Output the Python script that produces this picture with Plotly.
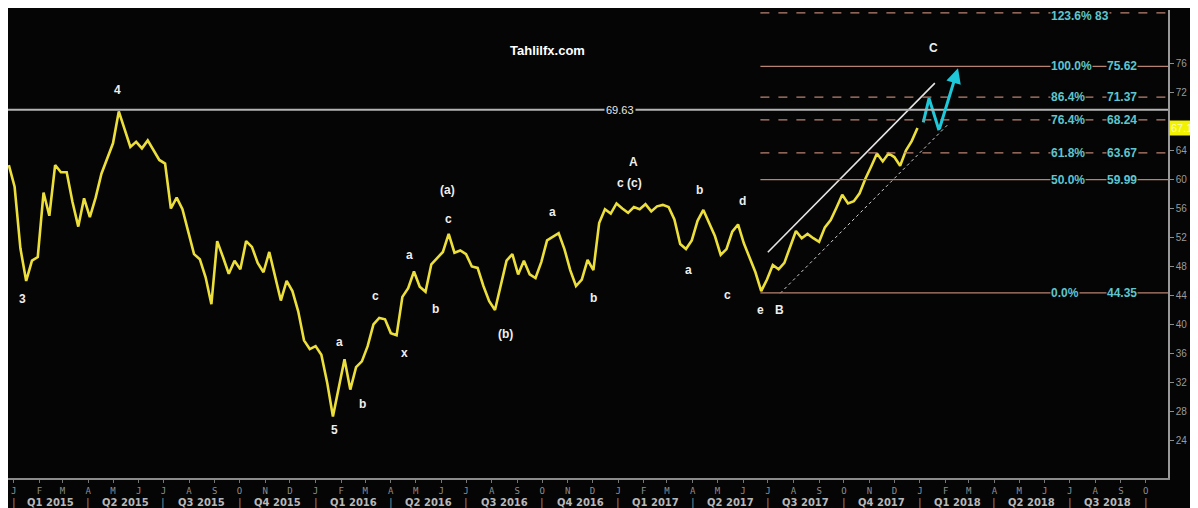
import pandas as pd
import plotly.graph_objects as go

# ---------------- data ----------------
PRICE_START = "2014-12-26"   # weekly closes
PRICE_VALUES = [
    62.0, 59.0, 50.5, 46.0, 48.8, 49.3, 58.2, 55.0, 62.0, 61.0,
    61.0, 56.9, 53.5, 57.4, 54.8, 57.5, 60.8, 63.0, 65.0, 69.4,
    67.0, 64.5, 65.2, 64.3, 65.4, 64.1, 62.7, 62.2, 56.0, 57.5,
    55.9, 52.8, 49.7, 49.0, 46.5, 42.8, 51.5, 49.3, 47.0, 48.8,
    47.6, 51.5, 50.7, 48.5, 47.2, 50.0, 46.8, 43.3, 46.0, 44.6,
    41.8, 37.8, 36.6, 37.0, 35.8, 32.0, 27.3, 31.5, 35.2, 31.0,
    34.1, 34.9, 37.0, 40.0, 40.9, 40.7, 38.8, 38.5, 43.8, 45.0,
    47.3, 45.2, 44.5, 48.3, 49.2, 50.0, 52.5, 49.9, 50.2, 49.7,
    48.0, 47.8, 45.3, 43.2, 42.0, 45.2, 48.8, 49.7, 46.9, 48.8,
    46.9, 46.4, 48.6, 51.6, 52.1, 52.6, 50.4, 47.5, 45.3, 46.2,
    48.9, 47.5, 54.0, 55.9, 55.3, 56.7, 56.0, 55.4, 56.2, 55.9,
    56.6, 55.6, 56.3, 56.5, 56.2, 54.5, 51.1, 50.4, 51.6, 54.3,
    55.8, 54.0, 52.2, 49.6, 50.4, 52.8, 53.8, 51.2, 49.3, 47.2,
    44.6, 46.2, 48.2, 47.6, 48.5, 50.8, 52.9, 51.9, 52.5, 51.9,
    51.4, 53.4, 54.4, 56.1, 57.9, 56.7, 57.0, 58.1, 60.1, 61.8,
    63.6, 62.5, 63.6, 63.1, 61.9, 64.0, 65.3, 67.1,
]
LAST_PRICE = 67.14
RESISTANCE = 69.63

FIB_PCTS = ["123.6%", "100.0%", "86.4%", "76.4%", "61.8%", "50.0%", "0.0%"]
FIB_VALUES = [83.0, 75.62, 71.37, 68.24, 63.67, 59.99, 44.35]
FIB_DASHED = [True, False, True, True, True, False, False]
FIB_START = "2017-06-22"

WAVE_TEXT = ["3", "4", "5", "a", "b", "c", "x", "a", "b", "(a)", "c", "(b)",
             "a", "b", "A", "c (c)", "b", "a", "d", "c", "e", "B", "C"]
WAVE_DATES = ["2015-01-11", "2015-05-07", "2016-01-24", "2016-01-30", "2016-02-27",
              "2016-03-14", "2016-04-18", "2016-04-23", "2016-05-25", "2016-06-09",
              "2016-06-10", "2016-08-18", "2016-10-13", "2016-12-02", "2017-01-19",
              "2017-01-15", "2017-04-09", "2017-03-27", "2017-05-31", "2017-05-13",
              "2017-06-22", "2017-07-15", "2018-01-17"]
WAVE_VALUES = [43.5, 72.3, 25.4, 37.6, 29.0, 43.9, 36.0, 49.6, 42.1, 58.5,
               54.6, 38.7, 55.5, 43.7, 62.4, 59.5, 58.5, 47.5, 57.1, 44.0,
               42.0, 42.0, 78.1]

CHANNEL_UPPER_DATES = ["2017-07-01", "2018-01-19"]
CHANNEL_UPPER_VALUES = [49.96, 73.3]
CHANNEL_LOWER_DATES = ["2017-07-16", "2018-02-03"]
CHANNEL_LOWER_VALUES = [44.3, 67.5]

PROJ_DATES = ["2018-01-05", "2018-01-12", "2018-01-24", "2018-02-16"]
PROJ_VALUES = [67.9, 71.2, 66.8, 75.35]

MONTH_LETTERS = ["J", "F", "M", "A", "M", "J", "J", "A", "S", "O", "N", "D"]
QUARTER_LABELS = ["Q1 2015", "Q2 2015", "Q3 2015", "Q4 2015",
                  "Q1 2016", "Q2 2016", "Q3 2016", "Q4 2016",
                  "Q1 2017", "Q2 2017", "Q3 2017", "Q4 2017",
                  "Q1 2018", "Q2 2018", "Q3 2018"]
Y_TICKS = list(range(24, 80, 4))
WATERMARK = "Tahlilfx.com"

# ---------------- figure ----------------
X_RANGE = ["2014-12-25", "2018-10-28"]
Y_RANGE = [18.8, 83.4]
BG = "#050505"
YELLOW = "#ecdf3c"
CYAN = "#5ec6cc"
FIB_COLOR = "#b98372"
AXIS_TXT = "#9a9a9a"

price_dates = pd.date_range(PRICE_START, periods=len(PRICE_VALUES), freq="7D")
month_starts = pd.date_range("2015-01-01", "2018-10-01", freq="MS")
month_text = [MONTH_LETTERS[d.month - 1] for d in month_starts]
quarter_starts = pd.date_range("2015-01-01", periods=len(QUARTER_LABELS) + 1, freq="QS")
# the last-price tag covers the tick label nearest to it
y_ticktext = ["" if abs(t - LAST_PRICE) < 2 else str(t) for t in Y_TICKS]

fig = go.Figure()

fig.add_trace(go.Scatter(
    x=price_dates, y=PRICE_VALUES, mode="lines",
    line=dict(color=YELLOW, width=2.6), hoverinfo="skip", showlegend=False))

# channel
fig.add_trace(go.Scatter(
    x=CHANNEL_UPPER_DATES, y=CHANNEL_UPPER_VALUES, mode="lines",
    line=dict(color="#e6e6e6", width=1.6), showlegend=False, hoverinfo="skip"))
fig.add_trace(go.Scatter(
    x=CHANNEL_LOWER_DATES, y=CHANNEL_LOWER_VALUES, mode="lines",
    line=dict(color="#d0d0d0", width=1, dash="dot"), showlegend=False, hoverinfo="skip"))

# projection path
fig.add_trace(go.Scatter(
    x=PROJ_DATES[:3], y=PROJ_VALUES[:3], mode="lines",
    line=dict(color="#1fc8d8", width=3), showlegend=False, hoverinfo="skip"))

shapes = [
    dict(type="line", xref="x", yref="y", x0=X_RANGE[0], x1=X_RANGE[1],
         y0=RESISTANCE, y1=RESISTANCE, line=dict(color="#b4b4b4", width=2)),
]
for val, dashed in zip(FIB_VALUES, FIB_DASHED):
    shapes.append(dict(type="line", xref="x", yref="y", x0=FIB_START, x1=X_RANGE[1],
                       y0=val, y1=val,
                       line=dict(color=FIB_COLOR, width=1.3, dash="dash" if dashed else "solid")))

annotations = []
fib_font = dict(family="Liberation Sans, Arial", size=12, color=CYAN)
for pct, val in zip(FIB_PCTS, FIB_VALUES):
    if pct == "123.6%":
        annotations.append(dict(x="2018-06-07", y=val, xref="x", yref="y", xanchor="left",
                                yshift=-3, text=f"<b>{pct} {val:g}</b>", showarrow=False,
                                font=fib_font, bgcolor=BG, borderpad=0))
    else:
        annotations.append(dict(x="2018-06-07", y=val, xref="x", yref="y", xanchor="left",
                                text=f"<b>{pct}</b>", showarrow=False, font=fib_font,
                                bgcolor=BG, borderpad=0))
        annotations.append(dict(x="2018-09-22", y=val, xref="x", yref="y", xanchor="right",
                                text=f"<b>{val:.2f}</b>", showarrow=False, font=fib_font,
                                bgcolor=BG, borderpad=0))

annotations.append(dict(x="2017-01-03", y=RESISTANCE, xref="x", yref="y",
                        text=f"{RESISTANCE:.2f}", showarrow=False,
                        font=dict(family="Liberation Sans, Arial", size=11, color="#e8e8e8"),
                        bgcolor=BG, borderpad=1))

for t, d, v in zip(WAVE_TEXT, WAVE_DATES, WAVE_VALUES):
    annotations.append(dict(x=d, y=v, xref="x", yref="y", text=f"<b>{t}</b>",
                            showarrow=False,
                            font=dict(family="Liberation Sans, Arial", size=12, color="#eeeeee")))

annotations.append(dict(x="2016-10-07", y=77.8, xref="x", yref="y", text=f"<b>{WATERMARK}</b>",
                        showarrow=False,
                        font=dict(family="Liberation Sans, Arial", size=13, color="#ffffff")))

# projection arrow head segment
annotations.append(dict(x=PROJ_DATES[3], y=PROJ_VALUES[3], ax=PROJ_DATES[2], ay=PROJ_VALUES[2],
                        xref="x", yref="y", axref="x", ayref="y", text="", showarrow=True,
                        arrowhead=2, arrowsize=1, arrowwidth=3, arrowcolor="#1fc8d8",
                        standoff=0, startstandoff=0))

# last price tag
annotations.append(dict(x=1, y=LAST_PRICE, xref="paper", yref="y", xanchor="left", xshift=1,
                        text=f"{LAST_PRICE:.2f}", showarrow=False,
                        font=dict(family="Liberation Sans, Arial", size=11, color="#f8f8c0"),
                        bgcolor="#f2f200", borderpad=1))

# quarter labels and separators
q_font = dict(family="DejaVu Sans, Liberation Sans", size=10, color="#b8b8b8")
for i, lab in enumerate(QUARTER_LABELS):
    mid = quarter_starts[i] + (quarter_starts[i + 1] - quarter_starts[i]) / 2
    annotations.append(dict(x=mid, y=0, xref="x", yref="paper", yanchor="middle", yshift=-24,
                            text=f"<b>{lab}</b>", showarrow=False, font=q_font))
for qs in quarter_starts:
    annotations.append(dict(x=qs, y=0, xref="x", yref="paper", yanchor="middle", yshift=-24,
                            text="|", showarrow=False,
                            font=dict(family="DejaVu Sans", size=11, color="#8a8a8a")))

# the page puts the figure at an 8px offset; size it so it fits the window
fig.update_layout(
    width=1190, height=500,
    margin=dict(l=0, r=30, t=2, b=30, autoexpand=False),
    paper_bgcolor=BG, plot_bgcolor=BG,
    shapes=shapes, annotations=annotations, showlegend=False,
    xaxis=dict(type="date", range=X_RANGE, tickvals=month_starts, ticktext=month_text,
               tickfont=dict(family="DejaVu Sans Mono, monospace", size=9, color="#8e8e8e"),
               ticks="outside", ticklen=3, tickcolor="#777777",
               showline=True, linecolor="#8c8c8c", linewidth=1.5,
               showgrid=False, zeroline=False, fixedrange=True, automargin=False),
    yaxis=dict(side="right", range=Y_RANGE, tickvals=Y_TICKS, ticktext=y_ticktext,
               tickfont=dict(family="Liberation Sans, Arial", size=10, color=AXIS_TXT),
               ticks="outside", ticklen=4, tickcolor="#8c8c8c",
               showline=True, linecolor="#9a9a9a", linewidth=1.5, mirror=False,
               showgrid=False, zeroline=False, fixedrange=True, automargin=False),
)

fig.write_html("out.html")
